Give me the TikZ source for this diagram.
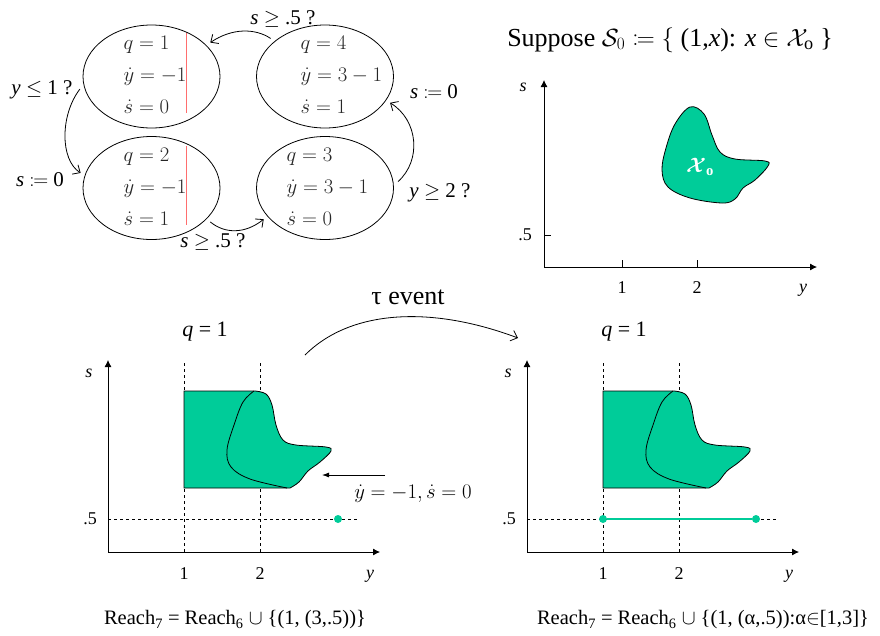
\documentclass[tikz,border=0pt]{standalone}
\usepackage{amsmath,amssymb,mathtools}
\usepackage{fontspec}
\setmainfont{Liberation Serif}
\usetikzlibrary{shapes.geometric,arrows.meta}
\definecolor{reachgreen}{RGB}{0,204,153}
\definecolor{guardred}{RGB}{255,110,110}

\begin{document}
\begin{tikzpicture}[x=1pt,y=-1pt,line width=0.8pt,>={Latex[length=7pt,width=7pt]}]
  \tikzstyle{mode}=[draw,ellipse,minimum width=137pt,minimum height=103pt,inner sep=0pt,outer sep=5pt]
  \tikzstyle{vals}=[anchor=west,align=left,text=black!85,font=\fontsize{20.5}{32}\selectfont]
  \tikzstyle{guard}=[font=\fontsize{21}{24}\selectfont]
  \tikzstyle{trans}=[-{Straight Barb[length=6pt,width=11pt]}]
  \tikzstyle{lbl}=[font=\fontsize{18}{20}\selectfont]
  \tikzstyle{capt}=[font=\fontsize{20.5}{24}\selectfont]
  \tikzstyle{big}=[font=\fontsize{22}{26}\selectfont]
  \tikzstyle{reach}=[fill=reachgreen,draw=black]
  \tikzstyle{dot}=[circle,fill=reachgreen,inner sep=0pt,minimum size=8pt]
  \useasboundingbox (0,0) rectangle (880,635);

  % hybrid automaton
  \node[mode] (q1) at (151.5,76.5) {};
  \node[mode] (q4) at (325,76.5) {};
  \node[mode] (q2) at (151.5,188) {};
  \node[mode] (q3) at (325,188) {};
  \node[vals] (v1) at (120,75) {$q=1$\\$\dot y=-1$\\$\dot s=0$};
  \node[vals] (v2) at (120,187) {$q=2$\\$\dot y=-1$\\$\dot s=1$};
  \node[vals] (v3) at (283,187) {$q=3$\\$\dot y=3-1$\\$\dot s=0$};
  \node[vals] (v4) at (297,75) {$q=4$\\$\dot y=3-1$\\$\dot s=1$};
  \draw[guardred] (186,33) -- (186,113);
  \draw[guardred] (186,146) -- (186,225);

  \draw[trans] (q4.145) .. controls (255,28) and (232,28) .. (q1.30);
  \draw[trans] (q1.190) .. controls (60,115) and (60,160) .. (q2.168);
  \draw[trans] (q2.330) .. controls (225,234) and (245,234) .. (q3.207);
  \draw[trans] (q3.5) .. controls (422,160) and (418,120) .. (q4.338);
  \node[guard] (g41) at (283,19) {\textit{s} $\geq$ .5 ?};
  \node[guard] (g12) at (42,90) {\textit{y} $\leq$ 1 ?};
  \node[guard] (r12) at (40,180) {\textit{s} $\coloneqq$ 0};
  \node[guard] (g23) at (213,242) {\textit{s} $\geq$ .5 ?};
  \node[guard] (r34) at (434,92) {\textit{s} $\coloneqq$ 0};
  \node[guard] (g34) at (440,193) {\textit{y} $\geq$ 2 ?};

  % initial set
  \node[font=\fontsize{26}{30}\selectfont] (title) at (670,40) {Suppose $\mathcal{S}_0 \coloneqq \{$ (1,\textit{x}): \textit{x} $\in \mathcal{X}_{\mathrm{o}}$ \}};
  \draw[->] (544,267) -- (544,80);
  \draw[->] (544,267) -- (817,267);
  \foreach \x in {622,697} {
    \draw (\x,267) -- (\x,260);
  }
  \draw (544,235) -- (551,235);
  \node[lbl] (t1) at (622,288) {1};
  \node[lbl] (t2) at (697,288) {2};
  \node[lbl] (ty) at (803,290) {\textit{y}};
  \node[lbl] (th) at (525,235) {.5};
  \node[lbl] (ts) at (523,87) {\textit{s}};
  \draw[reach] plot[smooth cycle,tension=0.6] coordinates {(690,107) (704,114) (712,135) (720,152) (735,159) (765,161) (768,166) (755,180) (743,188) (735,199) (722,203) (690,198) (668,187) (662,170) (666,148) (675,124)};
  \node[text=white,font=\fontsize{21}{24}\selectfont] (xo) at (700,167) {$\boldsymbol{\mathcal{X}}_{\mathbf{o}}$};

  % reach sets before and after the tau event
  \foreach \dx in {0,419} {
    \begin{scope}[xshift=\dx]
      \draw[dashed,line width=0.7pt] (184,363) -- (184,552);
      \draw[dashed,line width=0.7pt] (260,363) -- (260,552);
      \draw[dashed,line width=0.7pt] (108,519) -- (357,519);
      \draw[reach] (184,391) -- plot[smooth,tension=0.6] coordinates {(255,391) (266,394) (272,405) (276,425) (283,440) (296,445) (326,447) (331,451) (320,462) (308,471) (299,482) (290,488)} -- (184,488) -- cycle;
      \draw plot[smooth,tension=0.6] coordinates {(254,391) (243,402) (234,425) (227,450) (231,467) (250,479) (287,488)};
      \draw[->] (108,552) -- (108,360);
      \draw[->] (108,552) -- (380,552);
      \node[big] (mode\dx) at (205,332) {\textit{q} = 1};
      \node[lbl] (one\dx) at (184,574) {1};
      \node[lbl] (two\dx) at (260,574) {2};
      \node[lbl] (y\dx) at (370,576) {\textit{y}};
      \node[lbl] (half\dx) at (90,519) {.5};
      \node[lbl] (s\dx) at (89,373) {\textit{s}};
    \end{scope}
  }
  \node[dot] (p0) at (338,519) {};
  \node[dot] (p1) at (603,519) {};
  \node[dot] (p3) at (756,519) {};
  \draw[reachgreen,line width=1.3pt] (p1) -- (p3);

  \coordinate (fa) at (385,475);
  \coordinate (fb) at (322,475);
  \draw[-{Latex[length=7pt,width=5pt]}] (fa) -- (fb);
  \node[font=\fontsize{21}{24}\selectfont] (flow) at (413,494) {$\dot y=-1,\dot s=0$};

  \coordinate (ta) at (305,355);
  \coordinate (tb) at (518,338);
  \draw[trans] (ta) .. controls (350,310) and (430,305) .. (tb);
  \node[font=\fontsize{26}{30}\selectfont] (tau) at (408,297) {τ event};

  \node[capt] (cap0) at (235,620) {Reach\textsubscript{7} = Reach\textsubscript{6} $\cup$ \{(1, (3,.5))\}};
  \node[capt] (cap1) at (703,620) {Reach\textsubscript{7} = Reach\textsubscript{6} $\cup$ \{(1, (α,.5)):α$\in$[1,3]\}};
\end{tikzpicture}
\end{document}
